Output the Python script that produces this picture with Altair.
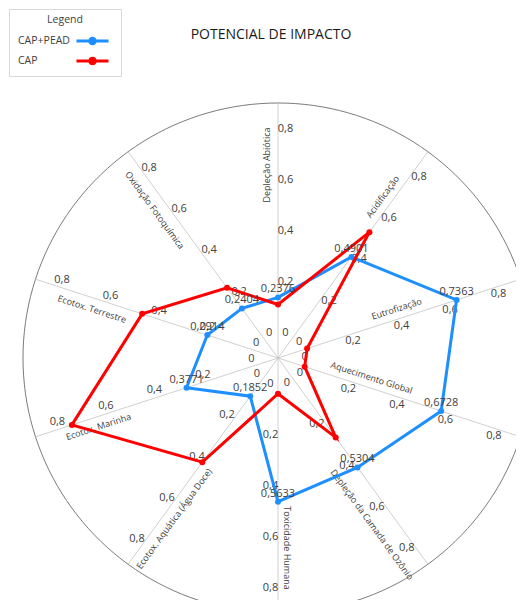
import math
import altair as alt
import pandas as pd

# ---------------- data ----------------
categories = ["Depleção Abiótica", "Acidificação", "Eutrofização", "Aquecimento Global",
              "Depleção da Camada de Ozônio", "Toxicidade Humana",
              "Ecotox. Aquática (Água Doce)", "Ecotox. Marinha", "Ecotox. Terrestre",
              "Oxidação Fotoquímica"]
series_names = ["CAP+PEAD", "CAP"]
cap_pead = [0.2376, 0.4901, 0.7363, 0.6728, 0.5304, 0.5633, 0.1852, 0.3771, 0.2914, 0.2404]
cap = [0.21, 0.61, 0.12, 0.11, 0.385, 0.14, 0.505, 0.85, 0.56, 0.34]
tick_values = [0.0, 0.2, 0.4, 0.6, 0.8]
tick_labels = ["0", "0,2", "0,4", "0,6", "0,8"]
axis_max = 1.0

# ---------------- layout / style ----------------
W, H = 508, 592
PX = 255.0            # pixels per unit of value
CX, CY = 270.0, 350.0  # centre of the radar inside the plot area
BLUE = "#1E8FFF"
RED = "#FF0000"
TXT = "#404040"
FONT = "Open Sans"
cat_label_r = [193, 192, 128, 95, 190, 190, 191, 192, 192, 192]
cat_label_p = [-11, -10, -10, -10, 22, -9, -10.5, -10, -11, -13]

n = len(categories)
ang = [360.0 * i / n for i in range(n)]


def pol(r, a_deg, p=0.0):
    a = math.radians(a_deg)
    return r * math.sin(a) + p * math.cos(a), r * math.cos(a) - p * math.sin(a)


xs = alt.Scale(domain=[-CX / PX, (W - CX) / PX], nice=False, zero=False)
ys = alt.Scale(domain=[-(H - CY) / PX, CY / PX], nice=False, zero=False)
X = lambda f="x": alt.X(f"{f}:Q", scale=xs, axis=None)
Y = lambda f="y": alt.Y(f"{f}:Q", scale=ys, axis=None)

# outer circle
circ = pd.DataFrame([{"t": t, "x": pol(axis_max, t)[0], "y": pol(axis_max, t)[1]}
                     for t in range(0, 361, 2)])
circle = alt.Chart(circ).mark_line(clip=True, stroke="#595959", strokeWidth=0.8).encode(
    x=X(), y=Y(), order="t:Q")

# spokes
sp = pd.DataFrame([{"x": 0.0, "y": 0.0, "x2": pol(axis_max, a)[0], "y2": pol(axis_max, a)[1]}
                   for a in ang])
spokes = alt.Chart(sp).mark_rule(clip=True, stroke="#c4c4c4", strokeWidth=0.8).encode(
    x=X(), y=Y(), x2="x2:Q", y2="y2:Q")

# tick labels on every spoke
tk = []
for a in ang:
    for v, lab in zip(tick_values, tick_labels):
        px, py = pol(v + 0.1, a, 7.5 / PX)
        tk.append({"x": px, "y": py, "label": lab})
ticks = alt.Chart(pd.DataFrame(tk)).mark_text(
    font=FONT, fontSize=11, color=TXT, align="center", baseline="middle").encode(
    x=X(), y=Y(), text="label:N")

# category labels
cl = []
for i, (c, a) in enumerate(zip(categories, ang)):
    px, py = pol(cat_label_r[i] / PX, a, cat_label_p[i] / PX)
    rot = (a - 90) if a <= 180 else (a - 270)
    cl.append({"x": px, "y": py, "label": c, "rot": rot % 360})
cats = alt.Chart(pd.DataFrame(cl)).mark_text(
    font=FONT, fontSize=9, color=TXT, align="center", baseline="middle").encode(
    x=X(), y=Y(), text="label:N", angle=alt.Angle("rot:Q", scale=None))

# series
rows = []
for s, vals in zip(series_names, [cap_pead, cap]):
    for i in range(n + 1):
        j = i % n
        px, py = pol(vals[j], ang[j])
        rows.append({"series": s, "x": px, "y": py, "o": i,
                     "label": f"{vals[j]:.4f}".replace(".", ","), "last": i == n})
df = pd.DataFrame(rows)

stroke_scale = alt.Scale(domain=series_names, range=[BLUE, RED])
legend = alt.Legend(
    title="Legend", orient="none", legendX=1, legendY=1,
    symbolType="M-1.78,0H1.78M-0.31,0A0.31,0.31,0,1,1,0.31,0A0.31,0.31,0,1,1,-0.31,0",
    symbolSize=324, symbolStrokeWidth=3, labelAlign="left",
    labelOffset={"expr": "-85"}, symbolOffset=67,
    titleAnchor="middle", titleAlign="center", titleFont=FONT, titleFontSize=10.5,
    titleFontWeight="normal", titleColor=TXT, labelFont=FONT, labelFontSize=10.5,
    labelColor=TXT, strokeColor="#d9d9d9", fillColor="white", padding=6, rowPadding=0,
    titlePadding=5)

lines = []
pts = []
for s in series_names:
    lines.append(alt.Chart(df).transform_filter(alt.datum.series == s).mark_line(
        clip=True, strokeWidth=3).encode(
        x=X(), y=Y(), order="o:Q",
        stroke=alt.Stroke("series:N", scale=stroke_scale, legend=legend)))
    pts.append(alt.Chart(df).transform_filter(
        (alt.datum.series == s) & (alt.datum["last"] == False)).mark_circle(
        size=36, opacity=1, clip=True).encode(
        x=X(), y=Y(),
        color=alt.Color("series:N", scale=alt.Scale(domain=series_names, range=[BLUE, RED]),
                        legend=None)))

vals_txt = alt.Chart(df).transform_filter(
    (alt.datum.series == series_names[0]) & (alt.datum["last"] == False)).mark_text(
    font=FONT, fontSize=11, color=TXT, align="center", baseline="bottom", dy=-3).encode(
    x=X(), y=Y(), text="label:N")

chart = alt.layer(circle, spokes, ticks, cats, lines[0], pts[0], lines[1], pts[1], vals_txt).properties(
    width=W, height=H, padding=0,
    autosize=alt.AutoSizeParams(type="none"),
    title=alt.TitleParams("POTENCIAL DE IMPACTO", font=FONT, fontSize=14, fontWeight="normal",
                          color="#1a1a1a", anchor="middle", dx=9, offset=-34),
).configure_view(stroke=None)

chart.save("out.html", embed_options={"renderer": "svg", "actions": False})
